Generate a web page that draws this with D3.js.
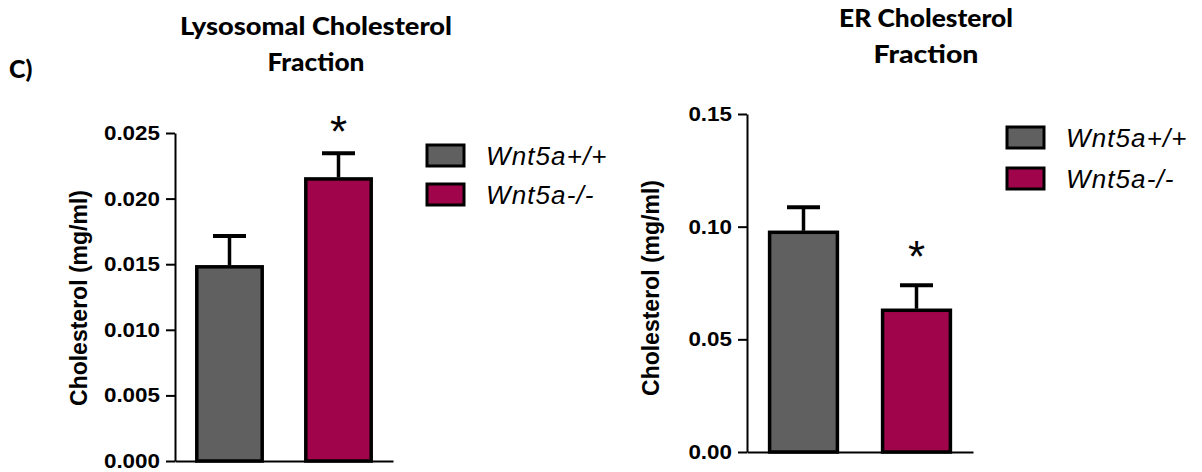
<!DOCTYPE html>
<html>
<head>
<meta charset="utf-8">
<script src="https://cdn.jsdelivr.net/npm/d3@7"></script>
<style>
  body { margin: 0; background: #fff; }
  svg { display: block; }
  .title { font-family: Lato, "Open Sans", sans-serif; font-weight: 900; font-size: 24px; text-anchor: middle; }
  .tick text { font-family: "Liberation Sans", Arial, sans-serif; font-weight: bold; font-size: 20px; fill: #000; }
  .ylab { font-family: "Liberation Sans", Arial, sans-serif; font-weight: bold; font-size: 23px; text-anchor: middle; }
  .leg { font-family: "Liberation Sans", Arial, sans-serif; font-style: italic; font-size: 26px; letter-spacing: 1.1px; }
  .star { font-family: "Liberation Sans", Arial, sans-serif; font-size: 44px; text-anchor: middle; }
</style>
</head>
<body>
<div id="fig"></div>
<script>
// groups and values (mean and SEM, mg/ml)
const groups = ["Wnt5a+/+", "Wnt5a-/-"];
const colors = ["#606060", "#a0044a"];

const lysoMean = [0.0148, 0.0215];
const lysoSem = [0.00235, 0.00195];
const lysoTicks = [0, 0.005, 0.010, 0.015, 0.020, 0.025];

const erMean = [0.0975, 0.0629];
const erSem = [0.0111, 0.0111];
const erTicks = [0, 0.05, 0.10, 0.15];

const width = 1202, height = 472;

const svg = d3.select('#fig').append('svg')
  .attr('width', width)
  .attr('height', height);

svg.append('text')
  .attr('class', 'title')
  .style('text-anchor', 'start')
  .style('font-size', '25px')
  .attr('x', 9).attr('y', 78)
  .text('C)');

function drawChart(cfg) {
  const g = svg.append('g');

  const y = d3.scaleLinear()
    .domain([0, cfg.ticks[cfg.ticks.length - 1]])
    .range([cfg.bottom, cfg.top]);

  const x = d3.scaleBand()
    .domain(groups)
    .range([cfg.left, cfg.right])
    .paddingInner(0.4)
    .paddingOuter(0.2);

  // titles (Calibri in the original, so stretch Lato to its width)
  cfg.title.forEach((t, i) => {
    g.append('text')
      .attr('class', 'title')
      .style('font-size', cfg.titleSize + 'px')
      .attr('x', cfg.titleX)
      .attr('y', cfg.titleY[i])
      .attr('textLength', cfg.titleW[i])
      .attr('lengthAdjust', 'spacingAndGlyphs')
      .text(t);
  });

  // bars
  g.selectAll('rect.bar')
    .data(groups)
    .enter().append('rect')
      .attr('class', 'bar')
      .attr('x', d => x(d))
      .attr('y', (d, i) => y(cfg.mean[i]))
      .attr('width', x.bandwidth())
      .attr('height', (d, i) => y(0) - y(cfg.mean[i]))
      .style('fill', (d, i) => colors[i])
      .style('stroke', '#000')
      .style('stroke-width', 3.5);

  // error bars (upper only)
  const cap = 33;
  groups.forEach((d, i) => {
    const cx = x(d) + x.bandwidth() / 2;
    const top = y(cfg.mean[i] + cfg.sem[i]);
    g.append('line')
      .attr('x1', cx).attr('x2', cx)
      .attr('y1', y(cfg.mean[i]) - 1.5).attr('y2', top)
      .style('stroke', '#000').style('stroke-width', 3.5);
    g.append('line')
      .attr('x1', cx - cap / 2).attr('x2', cx + cap / 2)
      .attr('y1', top).attr('y2', top)
      .style('stroke', '#000').style('stroke-width', 4);
  });

  // significance star over the second group
  const si = 1;
  const sx = x(groups[si]) + x.bandwidth() / 2;
  const sy = y(cfg.mean[si] + cfg.sem[si]) - cfg.starGap;
  const star = g.append('text')
    .attr('class', 'star')
    .attr('x', sx)
    .attr('y', sy)
    .text('*');
  const bb = star.node().getBBox();
  star.attr('y', sy + (sy - (bb.y + bb.height / 2)));

  // y axis
  g.append('g')
    .attr('transform', `translate(${cfg.left},0)`)
    .call(d3.axisLeft(y)
      .tickValues(cfg.ticks)
      .tickFormat(d3.format(cfg.fmt))
      .tickSize(9)
      .tickSizeOuter(0)
      .tickPadding(6))
    .call(a => a.select('.domain').style('stroke-width', 2))
    .call(a => a.selectAll('.tick line').style('stroke-width', 2))
    // labels in the figure are a bit wider than Arial bold
    .call(a => a.selectAll('.tick text').each(function() {
      const w = this.getComputedTextLength();
      d3.select(this).attr('textLength', w * 1.12).attr('lengthAdjust', 'spacingAndGlyphs');
    }));

  // x axis baseline
  g.append('g')
    .attr('transform', `translate(0,${cfg.bottom})`)
    .call(d3.axisBottom(x).tickSize(0).tickSizeOuter(0).tickFormat(''))
    .call(a => a.select('.domain').style('stroke-width', 2));

  // y label
  g.append('text')
    .attr('class', 'ylab')
    .attr('transform', `translate(${cfg.left - 93.5},${cfg.labelY}) rotate(-90)`)
    .attr('dy', '0.26em')
    .text('Cholesterol (mg/ml)');

  // legend
  groups.forEach((d, i) => {
    const ly = cfg.legY + i * cfg.legStep;
    g.append('rect')
      .attr('x', cfg.legX).attr('y', ly)
      .attr('width', 37).attr('height', 21)
      .style('fill', colors[i])
      .style('stroke', '#000')
      .style('stroke-width', 3);
    g.append('text')
      .attr('class', 'leg')
      .attr('x', cfg.legX + 59)
      .attr('y', ly + 20)
      .text(d);
  });
}

drawChart({
  title: ['Lysosomal Cholesterol', 'Fraction'],
  titleX: 316, titleY: [35, 71], titleSize: 25, titleW: [272, 97],
  mean: lysoMean, sem: lysoSem, ticks: lysoTicks, fmt: '.3f',
  left: 175, right: 393, top: 133, bottom: 461,
  labelY: 298,
  starGap: 22,
  legX: 427, legY: 145, legStep: 39
});

drawChart({
  title: ['ER Cholesterol', 'Fraction'],
  titleX: 926, titleY: [27, 63], titleSize: 24, titleW: [174, 105],
  mean: erMean, sem: erSem, ticks: erTicks, fmt: '.2f',
  left: 747, right: 973, top: 114, bottom: 452,
  labelY: 288,
  starGap: 29,
  legX: 1007, legY: 127, legStep: 41
});
</script>
</body>
</html>
